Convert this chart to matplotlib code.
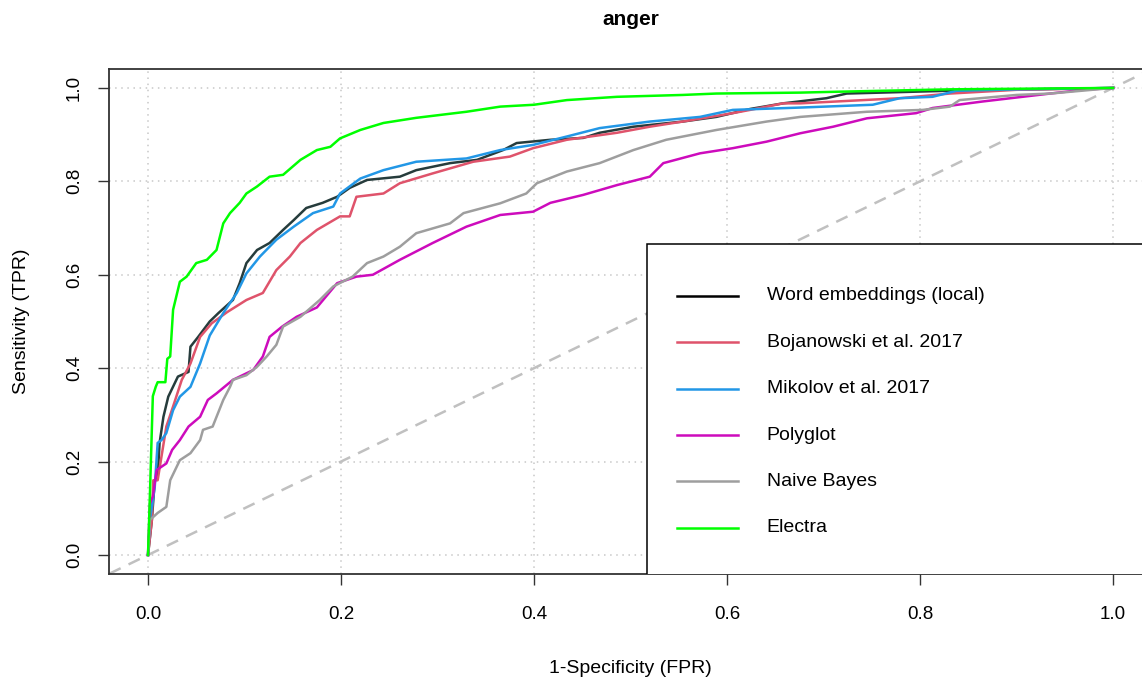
import matplotlib
matplotlib.use("Agg")
import matplotlib.pyplot as plt
from matplotlib.patches import Rectangle

plt.rcParams['font.family'] = ['Liberation Sans', 'DejaVu Sans']

# ROC curves (FPR, TPR)
word_fpr = [0, 0.004, 0.007, 0.010, 0.012, 0.016, 0.021, 0.031, 0.042, 0.044, 0.052, 0.064, 0.073, 0.088,
            0.095, 0.102, 0.113, 0.126, 0.140, 0.151, 0.164, 0.181, 0.196, 0.209, 0.227, 0.261, 0.278,
            0.313, 0.341, 0.368, 0.382, 0.417, 0.451, 0.468, 0.503, 0.554, 0.589, 0.624, 0.658, 0.703,
            0.724, 0.831, 1.0]
word_tpr = [0, 0.075, 0.160, 0.168, 0.240, 0.296, 0.339, 0.382, 0.392, 0.446, 0.467, 0.500, 0.518, 0.546,
            0.582, 0.625, 0.653, 0.668, 0.696, 0.717, 0.743, 0.754, 0.767, 0.786, 0.803, 0.810, 0.824,
            0.839, 0.846, 0.867, 0.882, 0.889, 0.893, 0.904, 0.917, 0.928, 0.938, 0.955, 0.967, 0.978,
            0.988, 0.994, 1.0]

boj_fpr = [0, 0.004, 0.0055, 0.010, 0.019, 0.026, 0.035, 0.044, 0.054, 0.066, 0.082, 0.102, 0.119, 0.133,
           0.147, 0.158, 0.175, 0.199, 0.209, 0.216, 0.244, 0.261, 0.295, 0.337, 0.375, 0.399, 0.434,
           0.486, 0.520, 0.554, 0.606, 0.624, 0.658, 0.676, 0.779, 0.831, 0.900, 1.0]
boj_tpr = [0, 0.075, 0.160, 0.160, 0.275, 0.318, 0.375, 0.410, 0.467, 0.496, 0.520, 0.546, 0.561, 0.610,
           0.639, 0.668, 0.696, 0.725, 0.725, 0.767, 0.774, 0.796, 0.817, 0.842, 0.853, 0.871, 0.889,
           0.904, 0.917, 0.928, 0.946, 0.953, 0.967, 0.967, 0.978, 0.988, 0.996, 1.0]

mik_fpr = [0, 0.002, 0.007, 0.010, 0.014, 0.019, 0.026, 0.033, 0.044, 0.054, 0.064, 0.078, 0.092, 0.102,
           0.116, 0.133, 0.151, 0.171, 0.192, 0.199, 0.220, 0.244, 0.278, 0.330, 0.365, 0.399, 0.434,
           0.468, 0.520, 0.572, 0.606, 0.676, 0.751, 0.779, 0.813, 0.838, 0.900, 1.0]
mik_tpr = [0, 0.075, 0.146, 0.240, 0.246, 0.261, 0.310, 0.339, 0.360, 0.410, 0.470, 0.518, 0.561, 0.603,
           0.639, 0.675, 0.703, 0.732, 0.746, 0.774, 0.806, 0.824, 0.842, 0.849, 0.867, 0.878, 0.896,
           0.914, 0.928, 0.938, 0.953, 0.958, 0.964, 0.978, 0.981, 0.994, 0.997, 1.0]

poly_fpr = [0, 0.002, 0.005, 0.009, 0.019, 0.025, 0.033, 0.042, 0.054, 0.062, 0.071, 0.088, 0.109, 0.119,
            0.126, 0.139, 0.154, 0.175, 0.196, 0.216, 0.233, 0.261, 0.295, 0.330, 0.365, 0.399, 0.417,
            0.451, 0.486, 0.520, 0.534, 0.572, 0.606, 0.641, 0.676, 0.710, 0.745, 0.796, 0.813, 0.865,
            0.935, 0.969, 1.0]
poly_tpr = [0, 0.110, 0.125, 0.182, 0.196, 0.225, 0.246, 0.275, 0.296, 0.332, 0.346, 0.375, 0.396, 0.425,
            0.467, 0.489, 0.510, 0.530, 0.582, 0.596, 0.600, 0.632, 0.668, 0.703, 0.728, 0.735, 0.754,
            0.771, 0.792, 0.810, 0.839, 0.860, 0.871, 0.885, 0.903, 0.917, 0.935, 0.946, 0.957, 0.971,
            0.988, 0.996, 1.0]

nb_fpr = [0, 0.002, 0.010, 0.019, 0.023, 0.033, 0.044, 0.054, 0.057, 0.067, 0.078, 0.085, 0.088, 0.102,
          0.113, 0.123, 0.133, 0.140, 0.158, 0.178, 0.192, 0.212, 0.227, 0.244, 0.261, 0.278, 0.313,
          0.327, 0.365, 0.392, 0.403, 0.434, 0.468, 0.503, 0.537, 0.589, 0.641, 0.676, 0.745, 0.803,
          0.831, 0.841, 0.900, 0.935, 1.0]
nb_tpr = [0, 0.075, 0.090, 0.103, 0.160, 0.203, 0.218, 0.246, 0.268, 0.275, 0.332, 0.360, 0.375, 0.385,
          0.403, 0.425, 0.450, 0.489, 0.510, 0.546, 0.575, 0.596, 0.625, 0.639, 0.660, 0.689, 0.710,
          0.732, 0.753, 0.774, 0.796, 0.821, 0.839, 0.867, 0.889, 0.910, 0.928, 0.938, 0.949, 0.953,
          0.960, 0.974, 0.985, 0.988, 1.0]

ele_fpr = [0, 0.002, 0.005, 0.008, 0.010, 0.018, 0.020, 0.023, 0.026, 0.033, 0.040, 0.050, 0.061, 0.071,
           0.078, 0.085, 0.095, 0.102, 0.113, 0.126, 0.140, 0.158, 0.175, 0.189, 0.199, 0.220, 0.244,
           0.278, 0.330, 0.365, 0.400, 0.434, 0.486, 0.554, 0.589, 0.676, 0.717, 0.831, 1.0]
ele_tpr = [0, 0.130, 0.340, 0.360, 0.370, 0.370, 0.420, 0.425, 0.525, 0.585, 0.596, 0.625, 0.632, 0.653,
           0.710, 0.732, 0.754, 0.774, 0.789, 0.810, 0.814, 0.846, 0.867, 0.874, 0.892, 0.910, 0.925,
           0.936, 0.949, 0.960, 0.964, 0.974, 0.981, 0.985, 0.988, 0.990, 0.992, 0.997, 1.0]

labels = ["Word embeddings (local)", "Bojanowski et al. 2017", "Mikolov et al. 2017",
          "Polyglot", "Naive Bayes", "Electra"]
colors = ["#263c3c", "#DF536B", "#2297E6", "#CD0BBC", "#9E9E9E", "#00FF00"]
curves = [(word_fpr, word_tpr), (boj_fpr, boj_tpr), (mik_fpr, mik_tpr),
          (poly_fpr, poly_tpr), (nb_fpr, nb_tpr), (ele_fpr, ele_tpr)]

fig = plt.figure(figsize=(11.42, 6.81), dpi=100)
ax = fig.add_axes([0.0958, 0.1576, 0.9126, 0.7407])
ax.set_xlim(-0.04, 1.04)
ax.set_ylim(-0.04, 1.04)

ticks = [0, 0.2, 0.4, 0.6, 0.8, 1.0]
for t in ticks:
    ax.axvline(t, color="#c8c8c8", linestyle=(0, (1, 3)), linewidth=1.1, zorder=0)
    ax.axhline(t, color="#c8c8c8", linestyle=(0, (1, 3)), linewidth=1.1, zorder=0)

# chance line
ax.axline((0, 0), (1, 1), color="#c0c0c0", linestyle=(0, (5, 3.5)), linewidth=1.8, zorder=1)

for (fpr, tpr), c in zip(curves, colors):
    ax.plot(fpr, tpr, color=c, linewidth=1.8, zorder=2)

# legend box in R style
ax.add_patch(Rectangle((0.517, -0.05), 0.6, 0.716, facecolor="white", edgecolor="black",
                       linewidth=1.1, zorder=5, clip_on=True))
y0, dy = 0.555, 0.0994
for i, (lab, c) in enumerate(zip(labels, colors)):
    y = y0 - i * dy
    legc = "black" if i == 0 else c
    ax.plot([0.548, 0.611], [y, y], color=legc, linewidth=1.8, zorder=6)
    ax.text(0.641, y, lab, fontsize=14, va="center", ha="left", zorder=6)

ax.set_xticks(ticks)
ax.set_yticks(ticks)
ax.set_xticklabels(["0.0", "0.2", "0.4", "0.6", "0.8", "1.0"], fontsize=13.5)
ax.set_yticklabels(["0.0", "0.2", "0.4", "0.6", "0.8", "1.0"], fontsize=13.5,
                   rotation=90, va="center")
ax.tick_params(axis="x", length=8, width=1, color="#333333", pad=15)
ax.tick_params(axis="y", length=8, width=1, color="#333333", pad=11)
for s in ax.spines.values():
    s.set_color("#333333")
    s.set_linewidth(1.3)

ax.set_xlabel("1-Specificity (FPR)", fontsize=14, labelpad=27)
ax.set_ylabel("Sensitivity (TPR)", fontsize=14, labelpad=26)
ax.set_title("anger", fontsize=15, fontweight="bold", pad=32)

fig.savefig("out.png", dpi=100)
